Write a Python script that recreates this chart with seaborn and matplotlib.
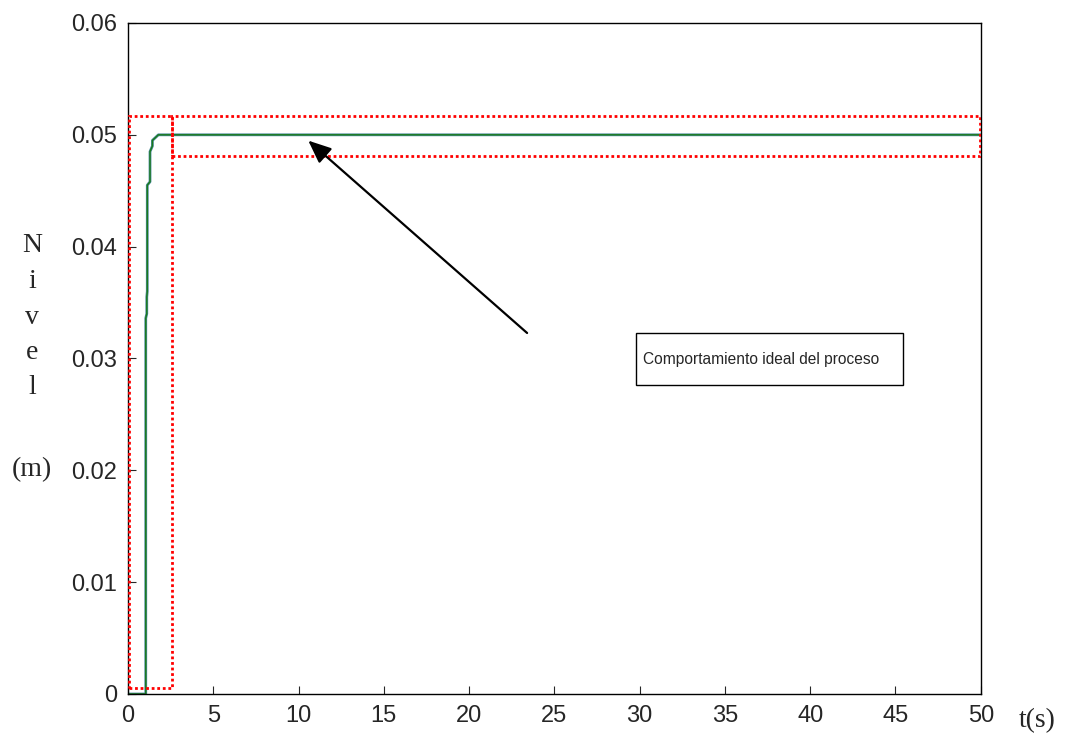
import matplotlib
matplotlib.use("Agg")
import matplotlib.pyplot as plt
import seaborn as sns
import pandas as pd
from matplotlib.patches import Rectangle

# respuesta del nivel
tiempo = [0, 1.04, 1.04, 1.10, 1.10, 1.13, 1.13, 1.29, 1.29, 1.43, 1.43, 1.78, 50]
nivel = [0, 0, 0.0336, 0.0340, 0.0355, 0.0360, 0.0455, 0.0458, 0.0485, 0.0490, 0.0495, 0.0500, 0.0500]

x_ticks = [0, 5, 10, 15, 20, 25, 30, 35, 40, 45, 50]
y_ticks = [0, 0.01, 0.02, 0.03, 0.04, 0.05, 0.06]
y_labels = ["0", "0.01", "0.02", "0.03", "0.04", "0.05", "0.06"]

texto = "Comportamiento ideal del proceso"

df = pd.DataFrame({"t": tiempo, "nivel": nivel})

sns.set_style("white")
plt.rcParams["font.family"] = ["Liberation Sans", "DejaVu Sans"]

fig = plt.figure(figsize=(10.65, 7.34), dpi=100)
ax = fig.add_axes([0.1202, 0.0545, 0.8007, 0.9142])

sns.lineplot(data=df, x="t", y="nivel", ax=ax, estimator=None, sort=False,
             color="#4a8a9a", linewidth=2.0)
sns.lineplot(data=df, x="t", y="nivel", ax=ax, estimator=None, sort=False,
             color="#1a7a1a", linewidth=1.0)

# rectangulos punteados
punteado = dict(fill=False, edgecolor="red", linestyle=(0, (1, 1)), linewidth=2.0, zorder=4)
ax.add_patch(Rectangle((0.03, 0.00051), 2.6 - 0.03, 0.0517 - 0.00051, **punteado))
ax.add_patch(Rectangle((2.6, 0.0481), 49.93 - 2.6, 0.0517 - 0.0481, **punteado))

# cuadro de texto y flecha
ax.add_patch(Rectangle((29.8, 0.0276), 45.45 - 29.8, 0.0323 - 0.0276, facecolor="white",
                       edgecolor="black", linewidth=1.0, zorder=5))
ax.text(37.1, 0.02995, texto, ha="center", va="center", fontsize=11.2, zorder=6)
ax.annotate("", xy=(10.57, 0.04948), xytext=(23.4, 0.03228),
            arrowprops=dict(arrowstyle="-|>,head_length=1.4,head_width=0.6",
                            color="black", lw=1.6, shrinkA=0, shrinkB=0), zorder=6)

ax.set_xlim(0, 50)
ax.set_ylim(0, 0.06)
ax.set_xticks(x_ticks)
ax.set_yticks(y_ticks)
ax.set_yticklabels(y_labels)
ax.set_xlabel("")
ax.set_ylabel("")
ax.tick_params(direction="in", length=6, width=0.8, labelsize=17, pad=8,
               bottom=True, left=True, top=False, right=False)
for s in ax.spines.values():
    s.set_color("black")
    s.set_linewidth(1.0)

# etiquetas de ejes en serif
serif = ["Liberation Serif", "DejaVu Serif"]
for i, letra in enumerate("Nivel"):
    fig.text(32 / 1065, 1 - (246 + 35.5 * i) / 734, letra, family=serif, fontsize=20,
             ha="center", va="center")
fig.text(32 / 1065, 1 - 470 / 734, "(m)", family=serif, fontsize=20, ha="center", va="center")
fig.text(1037 / 1065, 1 - 721 / 734, "t(s)", family=serif, fontsize=20, ha="center", va="center")

fig.savefig("out.png", dpi=100, facecolor="white")
